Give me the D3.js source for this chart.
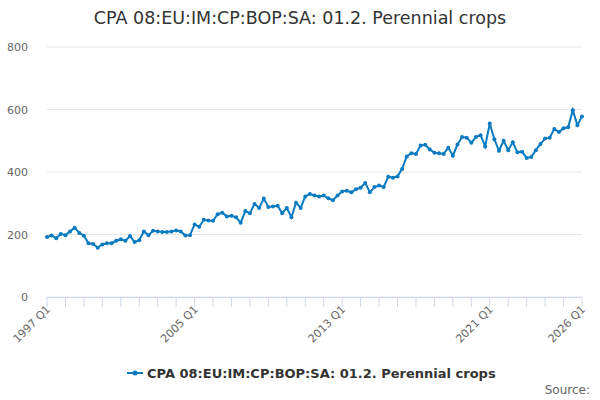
<!DOCTYPE html>
<html><head><meta charset="utf-8">
<script src="https://cdn.jsdelivr.net/npm/d3@7"></script>
<style>body{margin:0;font-family:"DejaVu Sans",sans-serif;background:#fff}</style>
</head><body><svg id="c" width="600" height="400"></svg>
<script>
var title = "CPA 08:EU:IM:CP:BOP:SA: 01.2. Perennial crops";
var startYear = 1997;
var values = [
 192,197,188,202, 198,210,222,205, 196,172,170,158, 168,172,172,180,
 185,180,195,176, 182,210,198,212, 210,208,208,210, 213,210,197,198,
 232,225,247,245, 244,265,270,258, 260,255,238,275, 268,298,285,315,
 288,290,292,268, 285,255,302,285, 322,330,325,322, 325,316,310,325,
 338,340,335,345, 350,365,335,352, 357,352,385,382, 386,410,450,460,
 458,485,487,472, 462,460,458,478, 452,488,512,510, 494,512,518,482,
 555,505,468,500, 470,495,463,465, 445,448,470,490, 507,510,538,528,
 540,543,598,550, 578];
var yTicks = [0,200,400,600,800];
var xLabels = ["1997 Q1","2005 Q1","2013 Q1","2021 Q1","2026 Q1"];

var svg = d3.select("#c");
var color = "#0a7bc1";
var x = d3.scaleLinear().domain([0, values.length-1]).range([47,582]);
var y = d3.scaleLinear().domain([0,800]).range([297,47]);

svg.append("text").attr("x",300).attr("y",24).attr("text-anchor","middle")
  .attr("font-size",17.5).attr("fill","#333").text(title);

svg.selectAll(".g").data(yTicks).enter().append("line")
  .attr("x1",47).attr("x2",582).attr("y1",d=>y(d)).attr("y2",d=>y(d))
  .attr("stroke","#e6e6e6");
svg.selectAll(".yl").data(yTicks).enter().append("text")
  .attr("x",28).attr("y",d=>y(d)+4).attr("text-anchor","end")
  .attr("font-size",11).attr("fill","#666").text(d=>d);

// x axis
svg.append("line").attr("x1",47).attr("x2",582).attr("y1",297.5).attr("y2",297.5).attr("stroke","#ccd6eb");
var yearIdx = d3.range(0, values.length, 4);
svg.selectAll(".xt").data(yearIdx).enter().append("line")
  .attr("x1",d=>x(d)).attr("x2",d=>x(d)).attr("y1",297).attr("y2",307).attr("stroke","#ccd6eb");
svg.selectAll(".xl").data(xLabels).enter().append("text")
  .attr("transform",d=>{var yr=+d.slice(0,4);return "translate("+(x((yr-startYear)*4)+4)+",310) rotate(-45)";})
  .attr("text-anchor","end").attr("font-size",11).attr("fill","#666").text(d=>d);

var line = d3.line().x((d,i)=>x(i)).y(d=>y(d));
svg.append("path").datum(values).attr("d",line).attr("fill","none")
  .attr("stroke",color).attr("stroke-width",2);
svg.selectAll(".p").data(values).enter().append("circle")
  .attr("cx",(d,i)=>x(i)).attr("cy",d=>y(d)).attr("r",2).attr("fill",color);

// legend
var lg = svg.append("g").attr("transform","translate(127,373)");
lg.append("line").attr("x1",0).attr("x2",16).attr("y1",0).attr("y2",0).attr("stroke",color).attr("stroke-width",2);
lg.append("circle").attr("cx",8).attr("cy",0).attr("r",2.5).attr("fill",color);
lg.append("text").attr("x",20).attr("y",4.5).attr("font-size",13).attr("font-weight","bold")
  .attr("fill","#333").text(title);

svg.append("text").attr("x",590).attr("y",394).attr("text-anchor","end")
  .attr("font-size",12).attr("fill","#666").text("Source:");
</script></body></html>
